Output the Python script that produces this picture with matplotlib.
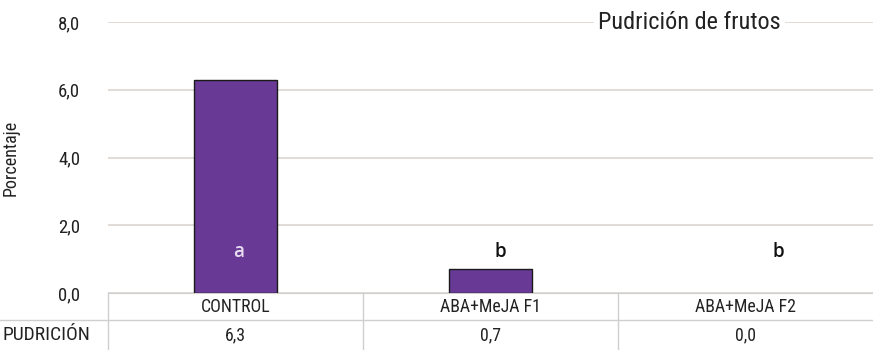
import matplotlib.pyplot as plt
import matplotlib.transforms as mtransforms
from matplotlib import font_manager
from matplotlib.lines import Line2D

categories = ["CONTROL", "ABA+MeJA F1", "ABA+MeJA F2"]
pudricion = [6.3, 0.7, 0.0]
letters = ["a", "b", "b"]
yticks = [0, 2, 4, 6, 8]

# prefer a narrow face if one is installed
installed = {f.name for f in font_manager.fontManager.ttflist}
narrow = [n for n in ["Roboto Condensed", "Liberation Sans Narrow", "Open Sans Condensed",
                      "Roboto", "DejaVu Sans"] if n in installed]
plt.rcParams["font.family"] = narrow + ["DejaVu Sans"]

W, H = 873, 350
fig = plt.figure(figsize=(W / 100, H / 100), dpi=100)
ax = fig.add_axes([108 / W, 57 / H, (W - 108) / W, 271 / H])

x = range(len(categories))
edges = ["#1a1a1a" if v > 0 else "none" for v in pudricion]
ax.bar(x, pudricion, width=0.325, color="#683a96", edgecolor=edges,
       linewidth=1.0, zorder=3)
ax.set_xlim(-0.5, 2.5)
ax.set_ylim(0, 8)
ax.set_yticks(yticks)
ax.set_yticklabels([f"{v:.1f}".replace(".", ",") for v in yticks],
                   fontsize=13.5, color="#222222")
ax.tick_params(axis="y", length=0, pad=20)
ax.set_xticks([])
ax.grid(axis="y", color="#dcd6d0", linewidth=1.2, zorder=0)
for s in ["top", "right", "left"]:
    ax.spines[s].set_visible(False)
ax.spines["bottom"].set_color("#cfcfcf")

ax.set_ylabel("Porcentaje", fontsize=13, color="#222222")
ax.yaxis.set_label_coords(-88 / (W - 108), 0.5)

# significance letters, nudged right of the bar centres
nudge = [0.012, 0.04, 0.13]
for i, lt in enumerate(letters):
    ax.text(i + nudge[i], 1.2, lt, ha="center", va="center", fontsize=13.5,
            family=["Open Sans", "DejaVu Sans"], fontweight="semibold",
            color="#e8dcf0" if pudricion[i] > 1.2 else "#111111", zorder=4)

ax.text(0.76, 8.0, "Pudrición de frutos", ha="center", va="center",
        transform=mtransforms.blended_transform_factory(ax.transAxes, ax.transData),
        fontsize=17.5, color="#222222", zorder=5,
        bbox=dict(facecolor="white", edgecolor="none", pad=3))

# data table under the plot
tf = fig.transFigure
tr = mtransforms.blended_transform_factory(ax.transData, tf)
y_top, y_mid, y_bot = 57 / H, 30 / H, 0
line_kw = dict(color="#cfcfcf", linewidth=1.0)
fig.add_artist(Line2D([0, 1], [y_mid, y_mid], transform=tf, **line_kw))
fig.add_artist(Line2D([108 / W, 108 / W], [y_bot, y_top], transform=tf, **line_kw))
for b in [0.5, 1.5]:
    ax.add_artist(Line2D([b, b], [y_bot, y_top], transform=tr, clip_on=False, **line_kw))

for i, (c, v) in enumerate(zip(categories, pudricion)):
    ax.text(i, (y_top + y_mid) / 2, c, transform=tr, ha="center", va="center",
            fontsize=12.8, color="#222222")
    ax.text(i, y_mid / 2, f"{v:.1f}".replace(".", ","), transform=tr,
            ha="center", va="center", fontsize=12.8, color="#222222")
fig.text(3 / W, y_mid / 2, "PUDRICIÓN", ha="left", va="center",
         fontsize=14, color="#222222")

fig.savefig("out.png", dpi=100)
